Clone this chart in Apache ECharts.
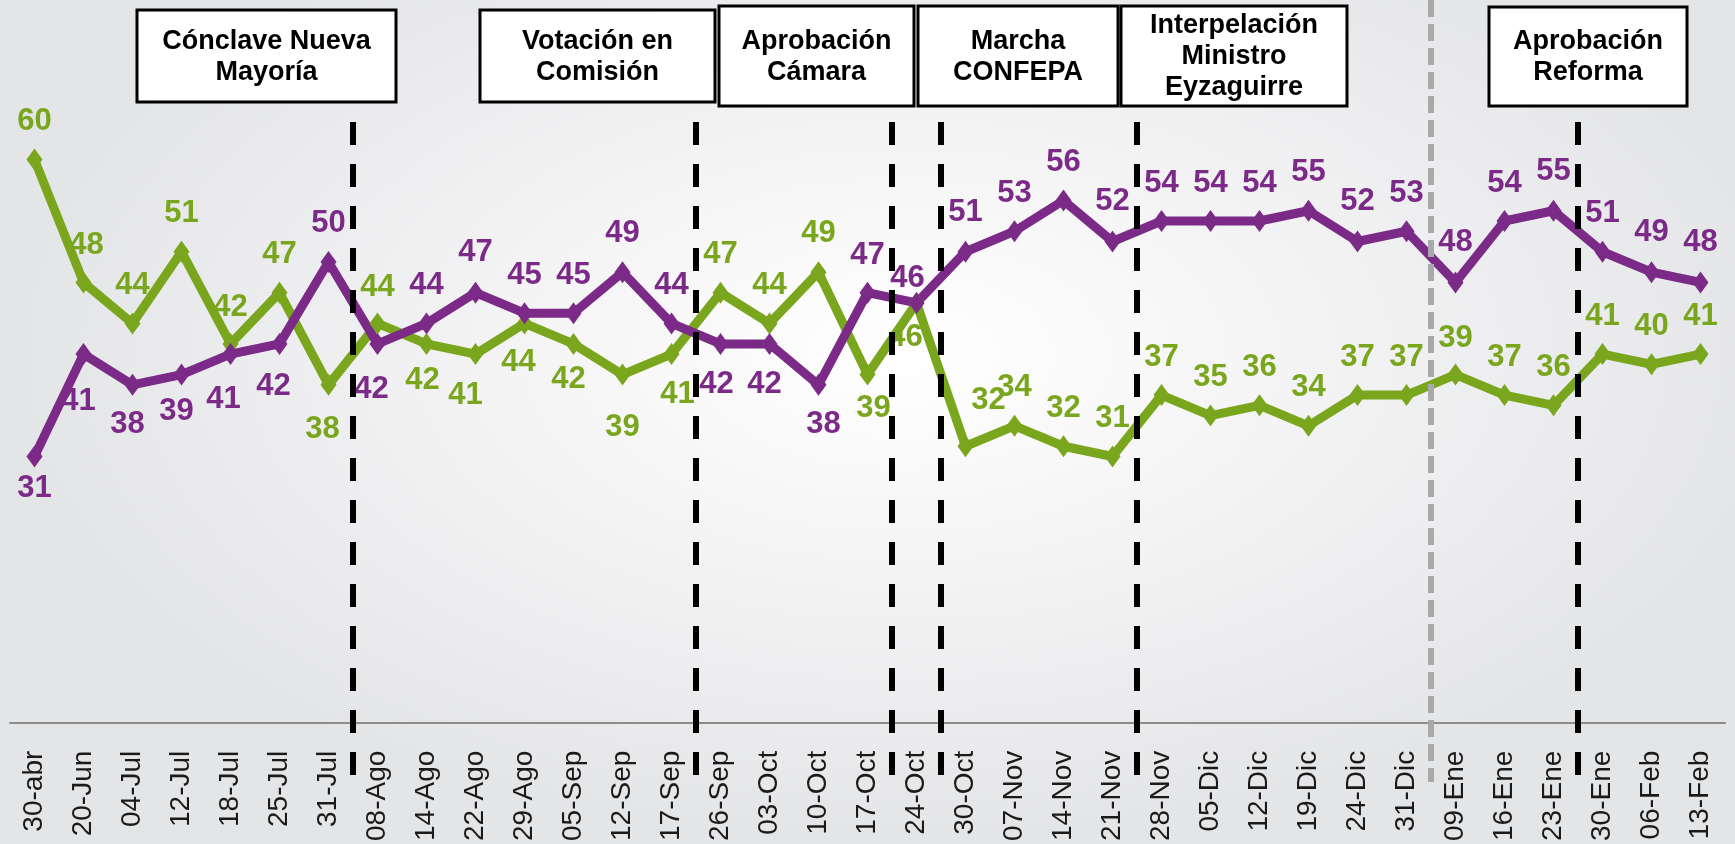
<!DOCTYPE html>
<html>
<head>
<meta charset="utf-8">
<script src="https://cdn.jsdelivr.net/npm/echarts/dist/echarts.min.js"></script>
<style>
  html, body { margin: 0; padding: 0; }
  #chart {
    width: 1735px;
    height: 844px;
    background: radial-gradient(ellipse at 52% 42%, #ffffff 0%, #f6f6f7 25%, #e4e5e7 70%);
  }
</style>
</head>
<body>
<div id="chart"></div>
<script>
// fechas de medición
const categories = ['30-abr', '20-Jun', '04-Jul', '12-Jul', '18-Jul', '25-Jul', '31-Jul', '08-Ago', '14-Ago',
  '22-Ago', '29-Ago', '05-Sep', '12-Sep', '17-Sep', '26-Sep', '03-Oct', '10-Oct', '17-Oct', '24-Oct', '30-Oct',
  '07-Nov', '14-Nov', '21-Nov', '28-Nov', '05-Dic', '12-Dic', '19-Dic', '24-Dic', '31-Dic', '09-Ene', '16-Ene',
  '23-Ene', '30-Ene', '06-Feb', '13-Feb']

// serie verde
const greenValues = [60, 48, 44, 51, 42, 47, 38, 44, 42, 41, 44, 42, 39, 41, 47, 44, 49, 39, 46, 32, 34, 32, 31,
  37, 35, 36, 34, 37, 37, 39, 37, 36, 41, 40, 41]

// serie morada
const purpleValues = [31, 41, 38, 39, 41, 42, 50, 42, 44, 47, 45, 45, 49, 44, 42, 42, 38, 47, 46, 51, 53, 56, 52,
  54, 54, 54, 55, 52, 53, 48, 54, 55, 51, 49, 48]

// hitos: texto del recuadro
const events = [
  'Cónclave Nueva\nMayoría',
  'Votación en\nComisión',
  'Aprobación\nCámara',
  'Marcha\nCONFEPA',
  'Interpelación\nMinistro\nEyzaguirre',
  'Aprobación\nReforma'
]
// hitos: la línea cae después de esta fecha
const eventAfter = ['31-Jul', '17-Sep', '17-Oct', '24-Oct', '21-Nov', '23-Ene']
// cambio de año (línea gris)
const yearBreakAfter = '31-Dic'

// ---- layout (no son datos) ----
const greenColor = '#7aa61e'
const purpleColor = '#7b2a87'
const T = [0, -38]
const greenNudge = [T, [3, -37], T, T, [0, -36], T, [-6, 45], [0, -36], [-4, 37], [-10, 41], [-6, 39], [-5, 36],
  [0, 53], [6, 40], T, T, [0, -39], [6, 34], [-11, 35], [23, -46], T, T, T, T, T, T, T, T, T, [0, -36], T, T, T, T, T]
const purpleNudge = [[0, 32], [-5, 47], [-5, 40], [-5, 37], [-7, 45], [-6, 43], [0, -39], [-6, 46], T, [0, -40], T, T,
  [0, -39], T, [-4, 41], [-5, 41], [5, 40], [0, -37], [-9, -24], [0, -39], T, T, [0, -40], T, T, T, T, [0, -40], T,
  [0, -40], T, [0, -39], T, [0, -40], [0, -40]]
const boxes = [
  [137, 10, 259, 92], [480, 10, 235, 92], [719, 6, 195, 100],
  [918, 6, 200, 100], [1121, 6, 226, 100], [1489, 7, 198, 99]
]

const font = 'Liberation Sans, Arial, sans-serif'

function buildData (values, nudge) {
  return values.map((v, i) => ({ value: v, label: { offset: nudge[i] } }))
}

function lineSeries (name, values, nudge, color) {
  return {
    name: name,
    type: 'line',
    data: buildData(values, nudge),
    symbol: 'diamond',
    symbolSize: [16, 22],
    lineStyle: { width: 9, color: color },
    itemStyle: { color: color },
    label: {
      show: true,
      position: 'inside',
      color: color,
      fontFamily: font,
      fontWeight: 'bold',
      fontSize: 31
    },
    emphasis: { disabled: true }
  }
}

const chart = echarts.init(document.getElementById('chart'), null, { renderer: 'canvas' })
chart.setOption({
  backgroundColor: 'transparent',
  animation: false,
  grid: { left: 10, right: 10, top: 6, bottom: 121 },
  xAxis: {
    type: 'category',
    data: categories,
    boundaryGap: true,
    axisLine: { lineStyle: { color: '#8c8c8c', width: 2 } },
    axisTick: { length: 8, lineStyle: { color: '#8c8c8c', width: 2 } },
    axisLabel: {
      rotate: 90,
      interval: 0,
      margin: 28,
      color: '#1a1a1a',
      fontFamily: font,
      fontSize: 28
    }
  },
  yAxis: {
    type: 'value',
    min: 5,
    max: 75,
    show: false,
    splitLine: { show: false }
  },
  series: [
    lineSeries('Verde', greenValues, greenNudge, greenColor),
    lineSeries('Morado', purpleValues, purpleNudge, purpleColor)
  ]
})

// posiciones de las líneas punteadas a partir del eje
function between (cat) {
  const i = categories.indexOf(cat)
  const a = chart.convertToPixel({ xAxisIndex: 0 }, i)
  const b = chart.convertToPixel({ xAxisIndex: 0 }, i + 1)
  return Math.round((a + b) / 2)
}

const graphics = []
eventAfter.forEach(cat => {
  const x = between(cat)
  graphics.push({
    type: 'line',
    z: 100,
    shape: { x1: x, y1: 122, x2: x, y2: 775 },
    style: { stroke: '#000', lineWidth: 6, lineDash: [23, 19] }
  })
})
const yx = between(yearBreakAfter)
graphics.push({
  type: 'line',
  z: 99,
  shape: { x1: yx, y1: 0, x2: yx, y2: 782 },
  style: { stroke: '#a9a9a9', lineWidth: 6, lineDash: [17, 7] }
})
events.forEach((txt, k) => {
  const [x, y, w, h] = boxes[k]
  graphics.push({
    type: 'rect',
    z: 100,
    shape: { x: x, y: y, width: w, height: h },
    style: { fill: '#fff', stroke: '#000', lineWidth: 3 }
  })
  graphics.push({
    type: 'text',
    z: 101,
    style: {
      text: txt,
      x: x + w / 2,
      y: y + h / 2 + 1,
      align: 'center',
      verticalAlign: 'middle',
      font: 'bold 27px ' + font,
      lineHeight: 31,
      fill: '#000'
    }
  })
})
chart.setOption({ graphic: graphics })
</script>
</body>
</html>
